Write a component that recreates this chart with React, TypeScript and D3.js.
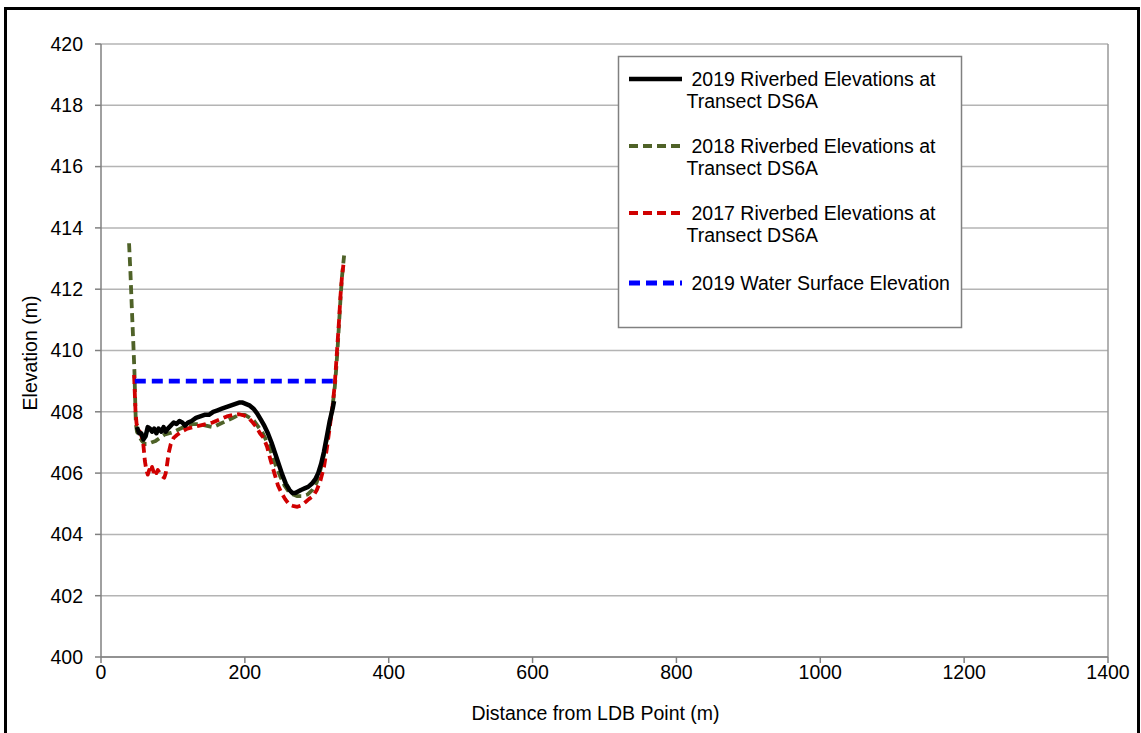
import React from "react";
import * as d3 from "d3";

const dist2019 = [50, 53, 56, 59, 62, 65, 68, 71, 74, 77, 80, 84, 87, 90, 93, 97, 101, 105, 109, 113, 117, 121, 126, 132, 138, 144, 150, 156, 162, 168, 174, 180, 186, 192, 197, 202, 207, 212, 217, 222, 227, 232, 237, 242, 247, 252, 257, 262, 266, 270, 274, 278, 283, 288, 293, 298, 302, 306, 310, 314, 318, 322, 324];
const elev2019 = [407.5, 407.3, 407.3, 407.1, 407.2, 407.5, 407.45, 407.35, 407.45, 407.3, 407.45, 407.35, 407.5, 407.35, 407.45, 407.55, 407.65, 407.6, 407.7, 407.65, 407.55, 407.65, 407.7, 407.8, 407.85, 407.9, 407.9, 408.0, 408.05, 408.1, 408.15, 408.2, 408.25, 408.3, 408.3, 408.25, 408.2, 408.1, 407.95, 407.75, 407.55, 407.3, 407.0, 406.65, 406.3, 405.95, 405.65, 405.45, 405.35, 405.35, 405.4, 405.45, 405.5, 405.55, 405.65, 405.8, 406.0, 406.3, 406.7, 407.2, 407.7, 408.1, 408.35];

const dist2018 = [39, 41, 43, 45, 46.5, 47.5, 48.5, 50, 53, 57, 61, 65, 70, 76, 82, 88, 95, 102, 110, 119, 128, 137, 146, 156, 165, 174, 183, 192, 200, 207, 213, 219, 225, 231, 237, 243, 249, 255, 261, 267, 273, 280, 287, 294, 300, 305, 310, 314, 318, 322, 325, 327, 329, 331, 333, 335, 338];
const elev2018 = [413.5, 412.5, 411.3, 410.2, 409.3, 408.4, 407.6, 407.35, 407.2, 407.05, 406.95, 406.95, 407.0, 407.05, 407.15, 407.25, 407.3, 407.35, 407.45, 407.55, 407.6, 407.6, 407.55, 407.5, 407.6, 407.7, 407.8, 407.9, 407.9, 407.8, 407.7, 407.5, 407.3, 407.0, 406.65, 406.25, 405.9, 405.6, 405.4, 405.3, 405.25, 405.25, 405.3, 405.45, 405.7, 406.1, 406.6, 407.1, 407.6, 408.2, 408.8, 409.4, 410.1, 410.9, 411.7, 412.4, 413.1];

const dist2017 = [46, 47, 48, 49.5, 52, 55, 57, 59, 61, 63, 65, 67, 69, 71, 73, 75, 77, 79, 82, 85, 88, 90, 92, 94, 97, 101, 106, 112, 120, 128, 137, 146, 155, 165, 175, 184, 192, 199, 205, 211, 216, 221, 226, 231, 236, 241, 246, 251, 256, 262, 268, 273, 279, 284, 289, 295, 300, 305, 310, 314, 318, 322, 325, 327, 329, 331, 333, 335, 337];
const elev2017 = [409.2, 408.6, 408.0, 407.6, 407.45, 407.3, 407.15, 406.9, 406.4, 406.1, 405.95, 406.1, 406.0, 406.2, 406.05, 406.15, 406.0, 406.1, 406.0, 405.9, 405.85, 406.0, 406.3, 406.65, 406.95, 407.15, 407.25, 407.35, 407.45, 407.5, 407.55, 407.6, 407.65, 407.75, 407.85, 407.9, 407.92, 407.88, 407.8, 407.65, 407.5, 407.3, 407.15, 406.85, 406.4, 406.0, 405.6, 405.35, 405.15, 404.97, 404.92, 404.9, 404.95, 405.05, 405.15, 405.25, 405.45, 405.75, 406.2, 406.8, 407.5, 408.2, 408.9, 409.6, 410.3, 411.0, 411.8, 412.4, 412.8];

const distWater = [47, 325];
const elevWater = [409, 409];

const xTicks = [0, 200, 400, 600, 800, 1000, 1200, 1400];
const yTicks = [400, 402, 404, 406, 408, 410, 412, 414, 416, 418, 420];

const legendLabels = [
  ["2019 Riverbed Elevations at", "Transect DS6A"],
  ["2018 Riverbed Elevations at", "Transect DS6A"],
  ["2017 Riverbed Elevations at", "Transect DS6A"],
  ["2019 Water Surface Elevation"],
];

const FONT = "'Liberation Sans', Arial, sans-serif";
const FS = 19.5;

export default function App() {
  const left = 101, right = 1108, top = 44, bottom = 657;
  const x = d3.scaleLinear().domain([0, 1400]).range([left, right]);
  const y = d3.scaleLinear().domain([400, 420]).range([bottom, top]);
  const line = d3.line<[number, number]>().x((d) => x(d[0])).y((d) => y(d[1]));
  const zip = (a: number[], b: number[]) => a.map((v, i) => [v, b[i]] as [number, number]);

  const series = [
    { d: zip(dist2018, elev2018), color: "#4f6228", w: 3.8, dash: "9,5" },
    { d: zip(dist2017, elev2017), color: "#d00000", w: 3.8, dash: "9,5" },
    { d: zip(dist2019, elev2019), color: "#000000", w: 4.5, dash: null },
    { d: zip(distWater, elevWater), color: "#0000ff", w: 4.8, dash: "11,6" },
  ];

  const legendStyles = [
    { color: "#000000", w: 4.5, dash: null },
    { color: "#4f6228", w: 3.8, dash: "9,5" },
    { color: "#d00000", w: 3.8, dash: "9,5" },
    { color: "#0000ff", w: 4.8, dash: "11,6" },
  ];
  const legendRowY = [79, 146, 213, 283];

  return (
    <svg width={1141} height={733} style={{ position: "absolute", left: 0, top: 0, background: "#fff" }} fontFamily={FONT}>
      <rect x={0} y={0} width={1141} height={733} fill="#fff" />
      <rect x={5.5} y={8.5} width={1133} height={740} fill="none" stroke="#000" strokeWidth={3} />
      {yTicks.map((t) => (
        <line key={"g" + t} x1={left} x2={right} y1={y(t)} y2={y(t)} stroke="#b4b4b4" strokeWidth={1.5} />
      ))}
      <line x1={right} x2={right} y1={top} y2={bottom} stroke="#999" strokeWidth={1.5} />
      <line x1={left} x2={left} y1={top} y2={bottom} stroke="#808080" strokeWidth={1.5} />
      <line x1={left} x2={right} y1={bottom} y2={bottom} stroke="#808080" strokeWidth={1.5} />
      {yTicks.map((t) => (
        <g key={"yt" + t}>
          <line x1={left - 6} x2={left} y1={y(t)} y2={y(t)} stroke="#808080" strokeWidth={1.5} />
          <text x={83} y={y(t)} dy="0.35em" textAnchor="end" fontSize={FS} fill="#000">{t}</text>
        </g>
      ))}
      {xTicks.map((t) => (
        <g key={"xt" + t}>
          <line x1={x(t)} x2={x(t)} y1={bottom} y2={bottom + 6} stroke="#808080" strokeWidth={1.5} />
          <text x={x(t)} y={678.5} textAnchor="middle" fontSize={FS} fill="#000">{t}</text>
        </g>
      ))}
      <text x={595.5} y={719.5} textAnchor="middle" fontSize={FS} fill="#000">Distance from LDB Point (m)</text>
      <text transform="translate(36.5,353) rotate(-90)" textAnchor="middle" fontSize={FS} fill="#000">Elevation (m)</text>
      {series.map((s, i) => (
        <path key={"s" + i} d={line(s.d) || ""} fill="none" stroke={s.color} strokeWidth={s.w}
          strokeDasharray={s.dash || undefined} strokeLinejoin="round" />
      ))}
      <rect x={618.5} y={56.5} width={343} height={271} fill="#fff" stroke="#808080" strokeWidth={1.5} />
      {legendLabels.map((lab, i) => (
        <g key={"l" + i}>
          <line x1={629} x2={682} y1={legendRowY[i]} y2={legendRowY[i]} stroke={legendStyles[i].color}
            strokeWidth={legendStyles[i].w} strokeDasharray={legendStyles[i].dash || undefined} />
          <text x={691.5} y={legendRowY[i] + 6.8} fontSize={FS} fill="#000">{lab[0]}</text>
          {lab[1] && <text x={686.5} y={legendRowY[i] + 29.4} fontSize={FS} fill="#000">{lab[1]}</text>}
        </g>
      ))}
    </svg>
  );
}
